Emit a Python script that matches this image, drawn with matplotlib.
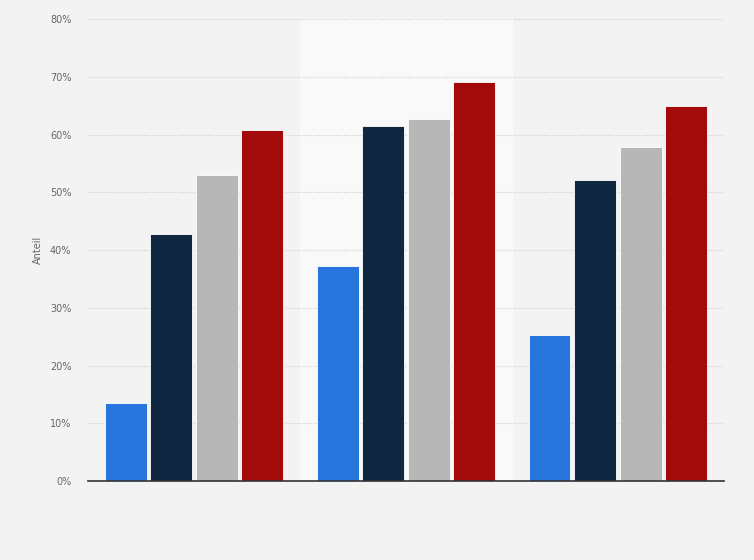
import matplotlib.pyplot as plt
import numpy as np

groups = ["Gruppe 1", "Gruppe 2", "Gruppe 3"]
series_names = ["Serie 1", "Serie 2", "Serie 3", "Serie 4"]
serie_1 = [13.5, 37.2, 25.3]
serie_2 = [42.8, 61.5, 52.1]
serie_3 = [53.0, 62.7, 57.8]
serie_4 = [60.8, 69.1, 64.9]
colors = ["#2876dd", "#0f2741", "#b7b7b7", "#a30a0a"]
yticks = [0, 10, 20, 30, 40, 50, 60, 70, 80]

fig = plt.figure(figsize=(7.54, 5.6), dpi=100, facecolor="#f3f3f3")
ax = fig.add_axes([0.1167, 0.141, 0.8433, 0.825])
ax.set_facecolor("#f3f3f3")

x = np.arange(len(groups))
step = 0.215
width = 0.198
for i, (vals, col) in enumerate(zip([serie_1, serie_2, serie_3, serie_4], colors)):
    ax.bar(x + (i - 1.5) * step, vals, width, color=col, edgecolor="white",
           linewidth=0.6, label=series_names[i], zorder=3)

# lighter band behind the middle group
ax.axvspan(0.5, 1.5, color="#f9f9f9", zorder=0)

ax.set_xlim(-0.5, 2.5)
ax.set_ylim(0, 80)
ax.set_yticks(yticks)
ax.set_yticklabels([f"{t}%" for t in yticks], fontsize=7, color="#666666")
ax.set_xticks([])
ax.yaxis.grid(True, linestyle=(0, (1, 1.5)), color="#cccccc", linewidth=0.8, zorder=1)
ax.tick_params(axis="y", length=0, pad=12)
ax.set_ylabel("Anteil", fontsize=7, color="#666666", labelpad=5)

for side in ["top", "right", "left"]:
    ax.spines[side].set_visible(False)
ax.spines["bottom"].set_color("#333333")
ax.spines["bottom"].set_linewidth(1.2)
ax.spines["bottom"].set_zorder(4)

fig.savefig("out.png", dpi=100, facecolor=fig.get_facecolor())
